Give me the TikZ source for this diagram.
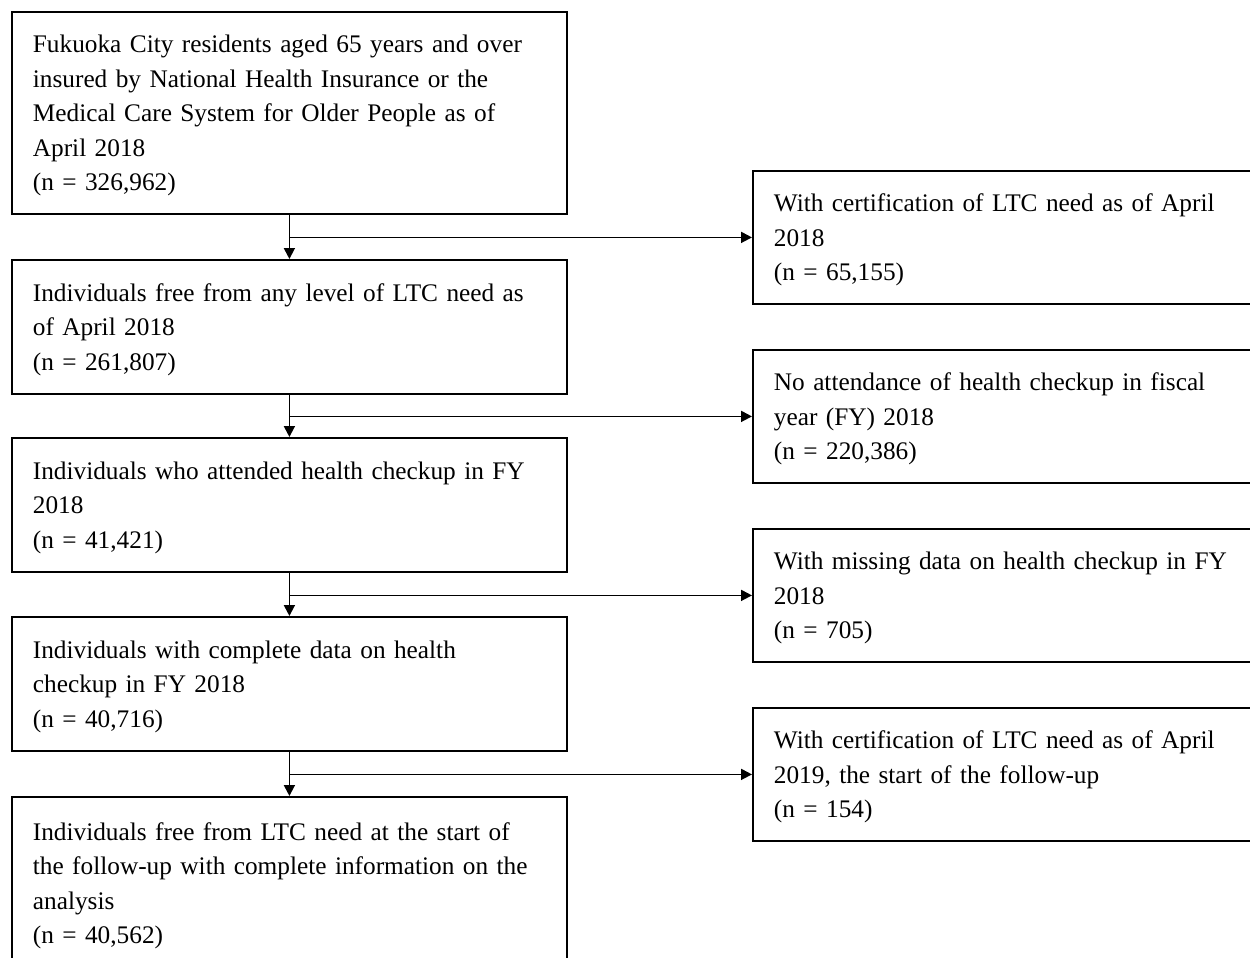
\documentclass[tikz,border=0pt]{standalone}
\usepackage{fontspec}
\setmainfont{Liberation Serif}
\usetikzlibrary{arrows.meta}
\newcommand{\topstrut}{\rule{0pt}{23.5pt}}
\begin{document}
\begin{tikzpicture}[x=1pt,y=-1pt,
  box/.style={draw,line width=1.8pt,anchor=north west,inner xsep=21pt,inner ysep=0pt,align=left,
    font=\fontsize{25.3}{34.5}\selectfont},
  lbox/.style={box,text width=513pt,minimum height=#1},
  rbox/.style={box,text width=468pt,minimum height=133pt},
  arr/.style={line width=1.8pt,-{Triangle[length=11pt,width=11pt]}}]
\useasboundingbox (0,0) rectangle (1250,958);
\clip (0,0) rectangle (1250,958);
\node[lbox=202pt] (b1) at (11,11) {\topstrut Fukuoka City residents aged 65 years and over\\insured by National Health Insurance or the\\Medical Care System for Older People as of\\April 2018\\(n = 326,962)};
\node[lbox=134pt] (b2) at (11,259) {\topstrut Individuals free from any level of LTC need as\\of April 2018\\(n = 261,807)};
\node[lbox=134pt] (b3) at (11,437) {\topstrut Individuals who attended health checkup in FY\\2018\\(n = 41,421)};
\node[lbox=134pt] (b4) at (11,616) {\topstrut Individuals with complete data on health\\checkup in FY 2018\\(n = 40,716)};
\node[lbox=172pt] (b5) at (11,796) {\topstrut Individuals free from LTC need at the start of\\the follow-up with complete information on the\\analysis\\(n = 40,562)};
\node[rbox] (r1) at (752,170) {\topstrut With certification of LTC need as of April\\2018\\(n = 65,155)};
\node[rbox] (r2) at (752,349) {\topstrut No attendance of health checkup in fiscal\\year (FY) 2018\\(n = 220,386)};
\node[rbox] (r3) at (752,528) {\topstrut With missing data on health checkup in FY\\2018\\(n = 705)};
\node[rbox] (r4) at (752,707) {\topstrut With certification of LTC need as of April\\2019, the start of the follow-up\\(n = 154)};
\draw[arr] (b1.south) -- (b2.north);
\draw[arr] (b1.south |- r1.west) -- (r1.west);
\draw[arr] (b2.south) -- (b3.north);
\draw[arr] (b2.south |- r2.west) -- (r2.west);
\draw[arr] (b3.south) -- (b4.north);
\draw[arr] (b3.south |- r3.west) -- (r3.west);
\draw[arr] (b4.south) -- (b5.north);
\draw[arr] (b4.south |- r4.west) -- (r4.west);
\end{tikzpicture}
\end{document}
